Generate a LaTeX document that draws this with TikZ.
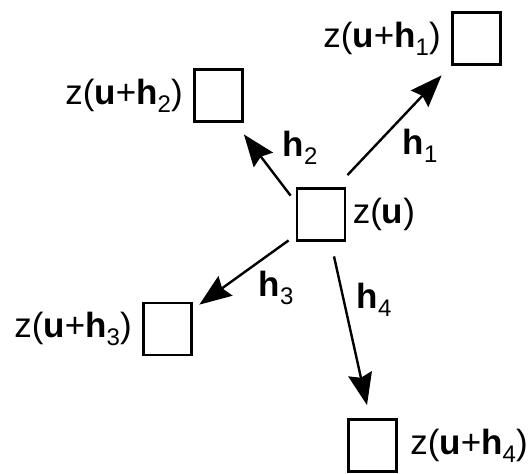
\documentclass[tikz,border=0pt]{standalone}
\usepackage{fontspec}
\setmainfont{Liberation Sans}
\usepackage{tikz}
\usetikzlibrary{arrows.meta,positioning}
\newcommand{\idx}[1]{\raisebox{-4pt}{\fontsize{12}{12}\selectfont #1}}
\tikzset{
  cell/.style={draw, line width=1.4pt, minimum width=24pt, minimum height=26pt,
               inner sep=0pt},
  val/.style={font=\fontsize{17.5}{20}\selectfont, inner sep=1pt},
  lag/.style={font=\fontsize{17.5}{20}\selectfont, inner sep=1pt},
  vec/.style={-{Stealth[length=16pt, width=12pt, inset=2pt]}, line width=1.2pt},
}

\begin{document}
\begin{tikzpicture}[x=0.5pt, y=-0.5pt]
  \useasboundingbox (0,0) rectangle (529,473);
  % cells
  \node[cell] (c)  at (321,214.5) {};
  \node[cell] (b1) at (476.5,38.5) {};
  \node[cell] (b2) at (218.5,95.5) {};
  \node[cell] (b3) at (167.5,329) {};
  \node[cell] (b4) at (372.5,445.5) {};
  % values
  \node[val, right=2pt of c]  (zc) {z(\textbf{u})};
  \node[val, left=4pt of b1]  (z1) {z(\textbf{u}+\textbf{h}\idx{1})};
  \node[val, left=4pt of b2]  (z2) {z(\textbf{u}+\textbf{h}\idx{2})};
  \node[val, left=4pt of b3]  (z3) {z(\textbf{u}+\textbf{h}\idx{3})};
  \node[val, right=5pt of b4] (z4) {z(\textbf{u}+\textbf{h}\idx{4})};
  % lag vectors
  \draw[vec] ([xshift=0.5pt, yshift=6pt]c.north east) -- ([xshift=-4.75pt, yshift=-4.75pt]b1.south west);
  \draw[vec] ([xshift=-2.5pt, yshift=-4.25pt]c.north west) -- ([yshift=-5.75pt]b2.south east);
  \draw[vec] ([xshift=-3.5pt, yshift=0.75pt]c.south west) -- ([xshift=3.25pt, yshift=-1.5pt]b3.north east);
  \draw[vec] ([xshift=6.5pt, yshift=-7.25pt]c.south) -- ([xshift=-2.75pt, yshift=6.5pt]b4.north);
  \node[lag] (h1) at (420,146) {\textbf{h}\idx{1}};
  \node[lag] (h2) at (300,148) {\textbf{h}\idx{2}};
  \node[lag] (h3) at (276,288) {\textbf{h}\idx{3}};
  \node[lag] (h4) at (374,300) {\textbf{h}\idx{4}};
\end{tikzpicture}
\end{document}
